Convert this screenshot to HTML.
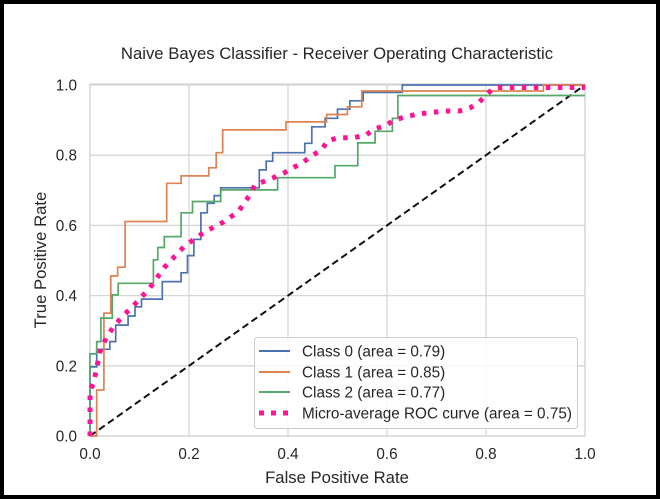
<!DOCTYPE html>
<html><head><meta charset="utf-8"><style>
html,body{margin:0;padding:0;background:#fff}
svg{display:block;font-family:"Liberation Sans","DejaVu Sans",sans-serif}
</style></head><body>
<svg id="chart" width="660" height="499" viewBox="0 0 660 499">
<rect x="2" y="2" width="656" height="495" fill="#fff" stroke="#000" stroke-width="4"/>
<text x="337" y="59" text-anchor="middle" font-size="16.7" fill="#262626">Naive Bayes Classifier - Receiver Operating Characteristic</text>
<g id="grid"></g>
<g id="series"></g>
<text x="337" y="483" text-anchor="middle" font-size="16.7" fill="#262626">False Positive Rate</text>
<text transform="translate(46,260) rotate(-90)" text-anchor="middle" font-size="16.7" fill="#262626">True Positive Rate</text>
<g>
<rect x="254.5" y="337.5" width="323" height="91" rx="3" fill="#fff" fill-opacity="0.85" stroke="#ccc"/>
<line x1="259" y1="351" x2="290" y2="351" stroke="#4c72b0" stroke-width="2"/>
<text x="302" y="356.5" font-size="15.3" fill="#262626">Class 0 (area = 0.79)</text>
<line x1="259" y1="372" x2="290" y2="372" stroke="#dd8452" stroke-width="2"/>
<text x="302" y="377.5" font-size="15.3" fill="#262626">Class 1 (area = 0.85)</text>
<line x1="259" y1="392" x2="290" y2="392" stroke="#55a868" stroke-width="2"/>
<text x="302" y="397.5" font-size="15.3" fill="#262626">Class 2 (area = 0.77)</text>
<line x1="259" y1="413" x2="290" y2="413" stroke="#ff1493" stroke-width="5" stroke-dasharray="5,7"/>
<text x="302" y="418.5" font-size="15.3" fill="#262626">Micro-average ROC curve (area = 0.75)</text>
</g>
</svg>
<script>
const xTicks=[0,0.2,0.4,0.6,0.8,1.0];
const yTicks=[0,0.2,0.4,0.6,0.8,1.0];
const class0Fpr=[0,0,0.0135,0.0135,0.04,0.04,0.052,0.052,0.077,0.077,0.091,0.091,0.104,0.104,0.146,0.146,0.184,0.184,0.197,0.197,0.210,0.210,0.224,0.224,0.237,0.237,0.251,0.251,0.264,0.264,0.342,0.342,0.356,0.356,0.369,0.369,0.434,0.434,0.448,0.448,0.475,0.475,0.500,0.500,0.525,0.525,0.552,0.552,0.631,0.631,1.0];
const class0Tpr=[0,0.197,0.197,0.247,0.247,0.269,0.269,0.316,0.316,0.342,0.342,0.368,0.368,0.390,0.390,0.440,0.440,0.465,0.465,0.514,0.514,0.560,0.560,0.636,0.636,0.663,0.663,0.685,0.685,0.707,0.707,0.758,0.758,0.783,0.783,0.807,0.807,0.834,0.834,0.881,0.881,0.905,0.905,0.931,0.931,0.955,0.955,0.979,0.979,1.0,1.0];
const class1Fpr=[0,0.0135,0.0135,0.028,0.028,0.042,0.042,0.056,0.056,0.071,0.071,0.155,0.155,0.184,0.184,0.240,0.240,0.255,0.255,0.268,0.268,0.396,0.396,0.478,0.478,0.520,0.520,0.549,0.549,0.916,0.916,1.0];
const class1Tpr=[0,0,0.131,0.131,0.350,0.350,0.456,0.456,0.481,0.481,0.611,0.611,0.720,0.720,0.741,0.741,0.764,0.764,0.807,0.807,0.872,0.872,0.895,0.895,0.916,0.916,0.938,0.938,0.983,0.983,1.0,1.0];
const class2Fpr=[0,0,0.0135,0.0135,0.022,0.022,0.045,0.045,0.057,0.057,0.128,0.128,0.137,0.137,0.150,0.150,0.184,0.184,0.207,0.207,0.264,0.264,0.379,0.379,0.495,0.495,0.541,0.541,0.576,0.576,0.611,0.611,0.622,0.622,1.0];
const class2Tpr=[0,0.234,0.234,0.269,0.269,0.336,0.336,0.402,0.402,0.435,0.435,0.502,0.502,0.537,0.537,0.568,0.568,0.636,0.636,0.668,0.668,0.701,0.701,0.736,0.736,0.770,0.770,0.835,0.835,0.868,0.868,0.905,0.905,0.970,0.970];
const microFpr=[0,0,0.007,0.013,0.02,0.033,0.047,0.065,0.087,0.1,0.12,0.135,0.15,0.17,0.19,0.21,0.23,0.27,0.3,0.323,0.333,0.374,0.394,0.414,0.431,0.448,0.468,0.480,0.502,0.532,0.557,0.575,0.597,0.614,0.639,0.663,0.687,0.717,0.746,0.769,0.787,0.802,0.817,1.0];
const microTpr=[0,0.13,0.15,0.19,0.24,0.28,0.31,0.34,0.37,0.39,0.42,0.45,0.48,0.51,0.54,0.56,0.58,0.61,0.64,0.687,0.715,0.738,0.751,0.767,0.780,0.799,0.815,0.841,0.850,0.850,0.857,0.875,0.884,0.900,0.910,0.917,0.921,0.926,0.926,0.936,0.952,0.974,0.993,0.993];
const X0=90,X1=585,Y0=436,Y1=85;
const sx=v=>X0+(X1-X0)*v, sy=v=>Y0-(Y0-Y1)*v;
const NS='http://www.w3.org/2000/svg';
const grid=document.getElementById('grid'), ser=document.getElementById('series');
function mk(tag,attrs,parent){const e=document.createElementNS(NS,tag);for(const k in attrs)e.setAttribute(k,attrs[k]);parent.appendChild(e);return e;}
xTicks.forEach(t=>{
  const l=mk('line',{x1:sx(t),x2:sx(t),y1:Y1-1,y2:Y0,stroke:'#d5d5d5','stroke-width':1.3},grid);
  
  
  const tx=mk('text',{x:sx(t),y:Y0+23,'text-anchor':'middle','font-size':15.3,fill:'#262626'},grid);
  tx.textContent=t.toFixed(1);
  
  
});
yTicks.forEach(t=>{
  const l=mk('line',{x1:X0,x2:X1,y1:sy(t),y2:sy(t),stroke:'#d5d5d5','stroke-width':1.3},grid);
  
  
  const tx=mk('text',{x:X0-13,y:sy(t)+5.5,'text-anchor':'end','font-size':15.3,fill:'#262626'},grid);
  tx.textContent=t.toFixed(1);
  
  
});
const frame=mk('rect',{x:X0,y:Y1-1,width:X1-X0,height:Y0-Y1+1,fill:'none',stroke:'#d5d5d5','stroke-width':1.3},grid);


function line(xs,ys,color,w,dash,name){
  const pts=xs.map((v,i)=>sx(v).toFixed(1)+','+sy(ys[i]).toFixed(1)).join(' ');
  const a={points:pts,fill:'none',stroke:color,'stroke-width':w};
  if(dash)a['stroke-dasharray']=dash;
  const p=mk('polyline',a,ser);
  
  
}
const diag=mk('line',{x1:sx(0),y1:sy(0),x2:sx(1),y2:sy(1),stroke:'#111','stroke-width':2,'stroke-dasharray':'7,4'},ser);


line(class0Fpr,class0Tpr,'#4c72b0',1.7,null,'class0-roc-line');
line(class1Fpr,class1Tpr,'#dd8452',1.7,null,'class1-roc-line');
line(class2Fpr,class2Tpr,'#55a868',1.7,null,'class2-roc-line');
line(microFpr,microTpr,'#ff1493',5,'4.5,7.5','micro-average-roc-line');
</script>
</body></html>
